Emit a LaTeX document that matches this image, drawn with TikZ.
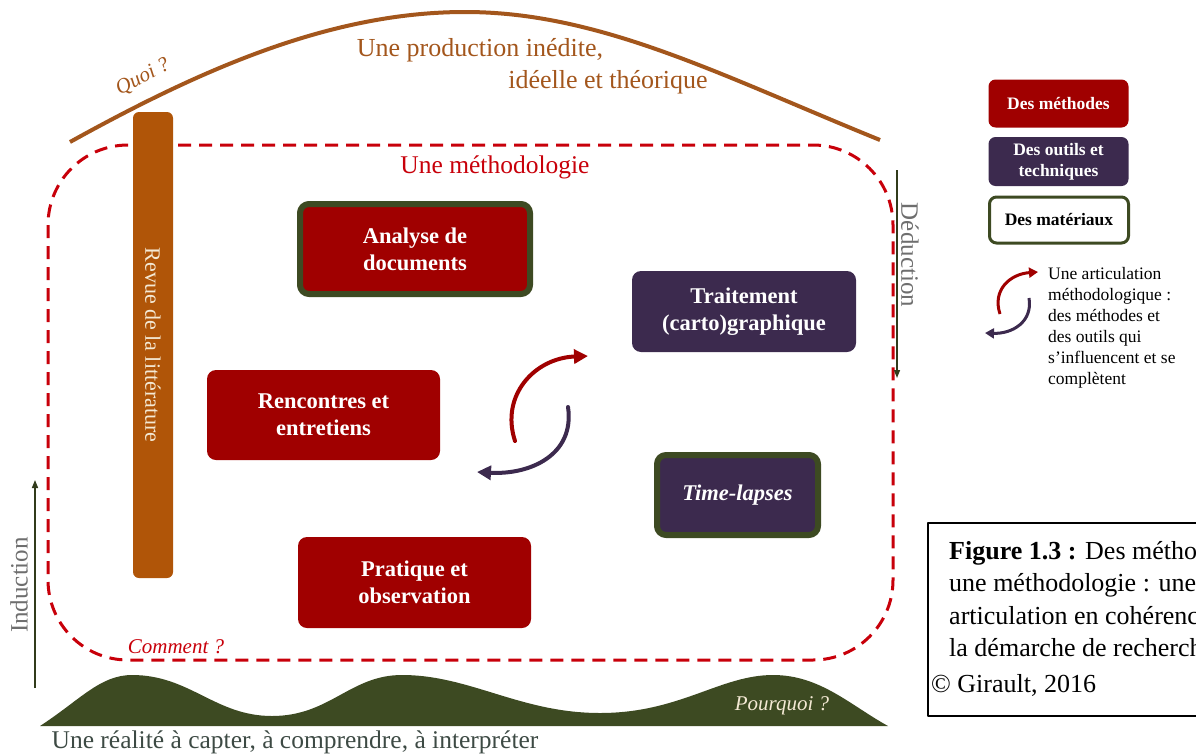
\documentclass[tikz,border=0pt]{standalone}
\usepackage{fontspec}
\setmainfont{Liberation Serif}
\usetikzlibrary{arrows.meta}
\definecolor{methred}{HTML}{A00000}
\definecolor{toolpurple}{HTML}{3C2A4E}
\definecolor{matgreen}{HTML}{3D4A22}
\definecolor{arcbrown}{HTML}{A3561C}
\definecolor{barbrown}{HTML}{B05508}
\definecolor{dashred}{HTML}{C8000A}
\definecolor{greytext}{HTML}{6E6E6E}
\definecolor{realtext}{HTML}{3D4A44}
\definecolor{cream}{HTML}{F4E9D4}
\newcommand{\fs}[2]{\fontsize{#1}{#2}\selectfont}
\tikzset{
  methode/.style={rounded corners=9pt, fill=methred, text=white, align=center, font=\bfseries\fs{22.5}{27}},
  outil/.style={methode, fill=toolpurple},
  materiau/.style={draw=matgreen, line width=6pt},
  legende/.style={rounded corners=7pt, align=center, font=\bfseries\fs{17.5}{21}, minimum width=140, inner sep=2pt},
  axe/.style={draw=matgreen!80!black, line width=1.5pt, -{Triangle[length=8pt,width=6pt]}},
  tourne/.style={line width=4pt, line cap=round, -{Triangle[length=14pt,width=14pt]}}
}
\begin{document}
\begin{tikzpicture}[x=1pt, y=-1pt, line join=round]
\useasboundingbox (0,0) rectangle (1196,755);
% la methodologie
\draw[dashred, line width=3pt, dash pattern=on 13pt off 8pt, rounded corners=80pt] (48,145) rectangle (893,660);
\node[text=dashred, font=\fs{25.5}{28}] (methodo) at (495,167) {Une méthodologie};
\node[text=dashred, font=\itshape\fs{21}{24}] (comment) at (176,647) {Comment ?};
% la production
\draw[arcbrown, line width=4pt] (70,142) .. controls (200,70) and (330,12) .. (465,12) .. controls (600,12) and (720,75) .. (880,140);
\node[text=arcbrown, font=\fs{26}{30}] (prod) at (480,50) {Une production inédite,};
\node[text=arcbrown, font=\fs{26}{30}] (prodbis) at (608,82) {idéelle et théorique};
\node[text=arcbrown, font=\itshape\fs{21}{24}, rotate=28, inner sep=0pt] (quoi) at (143,77) {Quoi ?};
% revue
\fill[barbrown, rounded corners=6pt] (133,112) rectangle (173,578);
\node[text=cream, font=\fs{22}{26}, rotate=-90] (revue) at (153,345) {Revue de la littérature};
% la realite
\fill[matgreen] (40,726) .. controls (80,700) and (100,675) .. (132,675) .. controls (190,675) and (215,716) .. (272,716)
  .. controls (330,716) and (350,675) .. (402,675) .. controls (470,675) and (520,713) .. (600,713)
  .. controls (680,713) and (720,675) .. (773,675) .. controls (820,675) and (850,705) .. (888,726) -- cycle;
\node[text=cream, font=\itshape\fs{21}{24}] (pourquoi) at (782,706) {Pourquoi ?};
\node[text=realtext, font=\fs{25.5}{28}] (realite) at (295,742) {Une réalité à capter, à comprendre, à interpréter};
% induction / deduction
\coordinate (indA) at (35,688); \coordinate (indB) at (35,480);
\draw[axe] (indA) -- (indB);
\node[text=greytext, font=\fs{25}{28}, rotate=90] (induction) at (19,585) {Induction};
\coordinate (dedA) at (897,170); \coordinate (dedB) at (897,378);
\draw[axe] (dedA) -- (dedB);
\node[text=greytext, font=\fs{25}{28}, rotate=-90] (deduction) at (910,255) {Déduction};
% methodes et outils
\node[methode, materiau, minimum width=230, minimum height=90] (analyse) at (415,249) {Analyse de\\ documents};
\node[outil, minimum width=224, minimum height=81] (traitement) at (744,311.5) {Traitement\\ (carto)graphique};
\node[methode, minimum width=233, minimum height=90] (rencontres) at (323.5,415) {Rencontres et\\ entretiens};
\node[outil, materiau, minimum width=161, minimum height=80, font=\bfseries\itshape\fs{22.5}{27}] (timelapse) at (737.5,495) {Time-lapses};
\node[methode, minimum width=233, minimum height=91] (pratique) at (414.5,582.5) {Pratique et\\ observation};
% articulation
\draw[tourne, methred] (515,441) .. controls (500,395) and (535,358) .. (588,356);
\draw[tourne, toolpurple] (568,407) .. controls (575,455) and (530,475) .. (477,472);
% legende
\node[legende, fill=methred, text=white, minimum height=48] (legmeth) at (1058.5,103.5) {Des méthodes};
\node[legende, fill=toolpurple, text=white, minimum height=49] (legoutil) at (1058.5,161.5) {Des outils et\\ techniques};
\node[legende, draw=matgreen, line width=3pt, text=black, minimum width=139, minimum height=46] (legmat) at (1059,220) {Des matériaux};
\draw[methred, line width=3pt, -{Triangle[length=9pt,width=10pt]}] (1000,314) .. controls (992,290) and (1010,274) .. (1038,272);
\draw[toolpurple, line width=3pt, -{Triangle[length=9pt,width=10pt]}] (1029,298) .. controls (1033,322) and (1012,334) .. (985,333);
\node[anchor=north west, align=left, font=\fs{17.5}{21}, inner sep=0pt] (legart) at (1048,267) {Une articulation\\ méthodologique :\\ des méthodes et\\ des outils qui\\ s’influencent et se\\ complètent};
% legende de la figure
\begin{scope}
\clip (920,515) rectangle (1196,730);
\draw[line width=1.5pt] (928,523) rectangle (1220,716);
\node[anchor=north west, align=left, font=\fs{26}{32.5}, inner sep=0pt] (figcap) at (949,541) {\textbf{Figure 1.3 :} Des méthodes et\\ une méthodologie : une\\ articulation en cohérence avec\\ la démarche de recherche};
\node[anchor=base west, font=\fs{26}{32.5}, inner sep=0pt] (copyr) at (931,692) {\copyright{} Girault, 2016};
\end{scope}
\end{tikzpicture}
\end{document}
